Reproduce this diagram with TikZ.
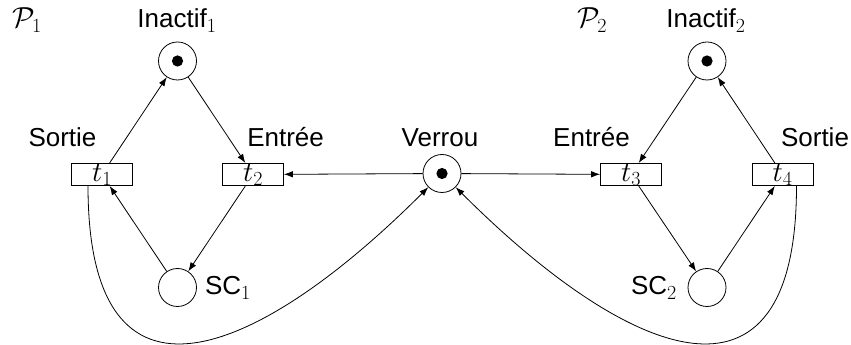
\RequirePackage{fix-cm}
\documentclass[tikz,border=0pt]{standalone}
\usepackage{fontspec}
\setmainfont{Liberation Sans}
\DeclareMathSizes{26}{29}{20}{15}
\usetikzlibrary{arrows.meta}
\begin{document}
\begin{tikzpicture}[x=1pt,y=1pt,
  font=\fontsize{26}{30}\selectfont,
  place/.style={circle,draw,line width=0.8pt,minimum size=38pt,inner sep=0pt},
  marked/.style={place,path picture={\fill (path picture bounding box.center) circle (5.6pt);}},
  trans/.style={rectangle,draw,line width=0.8pt,minimum width=61pt,minimum height=22pt,inner sep=0pt},
  arc/.style={-{Latex[length=9pt,width=6.5pt]},line width=0.8pt},
  lbl/.style={anchor=base,inner sep=0pt}]
\useasboundingbox (0,0) rectangle (851,345);

% places
\node[marked] (I1) at (177.5,284) {};
\node[marked] (I2) at (707,284) {};
\node[marked] (V)  at (442,171.5) {};
\node[place]  (S1) at (177.5,57.5) {};
\node[place]  (S2) at (707,57.5) {};

% transitions
\node[trans] (t1) at (102,170.5) {$t_1$};
\node[trans] (t2) at (253,170.5) {$t_2$};
\node[trans] (t3) at (631,170.5) {$t_3$};
\node[trans] (t4) at (782.5,170.5) {$t_4$};

% labels
\node[lbl] (p1) at (27,317) {$\mathcal{P}_1$};
\node[lbl] (p2) at (592,317) {$\mathcal{P}_2$};
\node[lbl] (li1) at (177,317) {Inactif$_1$};
\node[lbl] (li2) at (706,317) {Inactif$_2$};
\node[lbl] (ls1) at (62.5,198) {Sortie};
\node[lbl] (le1) at (285.6,198) {Entrée};
\node[lbl] (lv)  at (440,198) {Verrou};
\node[lbl] (le2) at (591.5,198) {Entrée};
\node[lbl] (ls2) at (815,198) {Sortie};
\node[lbl] (lsc1) at (228,50) {SC$_1$};
\node[lbl] (lsc2) at (654,50) {SC$_2$};

% process 1
\draw[arc] (t1) -- (I1);
\draw[arc] (I1) -- (t2);
\draw[arc] (t2) -- (S1);
\draw[arc] (S1) -- (t1);

% process 2
\draw[arc] (I2) -- (t3);
\draw[arc] (t3) -- (S2);
\draw[arc] (S2) -- (t4);
\draw[arc] (t4) -- (I2);

% lock
\draw[arc] (V) -- (t2);
\draw[arc] (V) -- (t3);
\draw[arc] ([xshift=-14pt]t1.south) .. controls +(0,-245) and +(-170,-170) .. (V.225);
\draw[arc] ([xshift=14pt]t4.south) .. controls +(0,-245) and +(170,-170) .. (V.315);
\end{tikzpicture}
\end{document}
